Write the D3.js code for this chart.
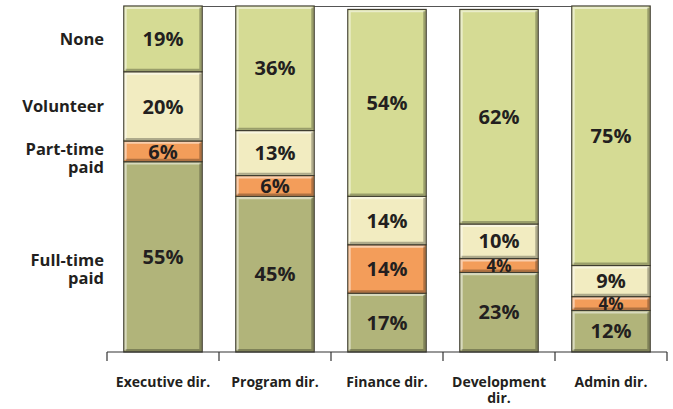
<!DOCTYPE html>
<html>
<head>
<meta charset="utf-8">
<script src="https://cdn.jsdelivr.net/npm/d3@7"></script>
<style>
  body { margin: 0; background: #fff; }
  text { font-family: "Open Sans", "DejaVu Sans", sans-serif; fill: #231f20; }
</style>
</head>
<body>
<div id="chart"></div>
<script>
var categories = ["Executive dir.", "Program dir.", "Finance dir.", "Development dir.", "Admin dir."];
var seriesNames = ["Full-time paid", "Part-time paid", "Volunteer", "None"];
var fullTime = [55, 45, 17, 23, 12];
var partTime = [6, 6, 14, 4, 4];
var volunteer = [20, 13, 14, 10, 9];
var none = [19, 36, 54, 62, 75];
var yLabels = [
    { text: ["None"], at: 90.5 },
    { text: ["Volunteer"], at: 71 },
    { text: ["Part-time", "paid"], at: 56 },
    { text: ["Full-time", "paid"], at: 24 }
];
var colors = ["#b1b47a", "#f39d5a", "#f2ecc1", "#d5db94"];

var width = 673, height = 409;
var margin = { top: 6, right: 6, bottom: 57, left: 107 };
var innerW = width - margin.left - margin.right;
var innerH = height - margin.top - margin.bottom;

var rows = categories.map(function (c, i) {
    return { cat: c, "Full-time paid": fullTime[i], "Part-time paid": partTime[i], "Volunteer": volunteer[i], "None": none[i] };
});
var stacked = d3.stack().keys(seriesNames)(rows);

var x = d3.scaleBand().domain(categories).range([0, innerW]).paddingInner(0.3).paddingOuter(0.15);
var xTick = d3.scaleBand().domain(categories).range([0, innerW]);
var y = d3.scaleLinear().domain([0, 100]).range([innerH, 0]);

var svg = d3.select("#chart").append("svg")
    .attr("width", width).attr("height", height)
    .append("g")
    .attr("transform", "translate(" + margin.left + "," + margin.top + ")");

// partial top border
svg.append("line")
    .attr("x1", 61).attr("x2", 490).attr("y1", 0.5).attr("y2", 0.5)
    .attr("stroke", "#555").attr("stroke-width", 1.2);

var layer = svg.selectAll(".layer")
    .data(stacked)
    .enter().append("g")
    .attr("class", "layer");

var seg = layer.selectAll("g.seg")
    .data(function (d, k) { return d.map(function (p) { return { p: p, k: k, cat: p.data.cat }; }); })
    .enter().append("g").attr("class", "seg");

seg.append("rect")
    .attr("x", function (d) { return x(d.cat); })
    .attr("y", function (d) { return y(d.p[1]); })
    .attr("width", x.bandwidth())
    .attr("height", function (d) { return y(d.p[0]) - y(d.p[1]); })
    .attr("fill", function (d) { return colors[d.k]; })
    .attr("stroke", "#3f3d30")
    .attr("stroke-width", 1.2);

/*  bevel: light top/left, dark bottom/right  */
seg.append("path")
    .attr("d", function (d) {
        var x0 = x(d.cat) + 1.8, x1 = x(d.cat) + x.bandwidth() - 1.8;
        var y0 = y(d.p[1]) + 1.8, y1 = y(d.p[0]) - 1.8;
        return "M" + x0 + "," + y1 + "L" + x0 + "," + y0 + "L" + x1 + "," + y0;
    })
    .attr("fill", "none").attr("stroke", "#fff").attr("stroke-opacity", 0.5).attr("stroke-width", 2.2);
seg.append("path")
    .attr("d", function (d) {
        var x0 = x(d.cat) + 1.8, x1 = x(d.cat) + x.bandwidth() - 1.8;
        var y0 = y(d.p[1]) + 1.8, y1 = y(d.p[0]) - 1.8;
        return "M" + x1 + "," + y0 + "L" + x1 + "," + y1 + "L" + x0 + "," + y1;
    })
    .attr("fill", "none").attr("stroke", "#000").attr("stroke-opacity", 0.28).attr("stroke-width", 2.2);

seg.append("text")
    .attr("x", function (d) { return x(d.cat) + x.bandwidth() / 2; })
    .attr("y", function (d) { return (y(d.p[0]) + y(d.p[1])) / 2; })
    .attr("dy", "0.36em")
    .attr("text-anchor", "middle")
    .style("font-size", function (d) { return (d.p[1] - d.p[0]) < 5 ? "17px" : "20px"; })
    .style("font-weight", "700")
    .text(function (d) { return (d.p[1] - d.p[0]) + "%"; });

// x axis
var xAxis = svg.append("g")
    .attr("transform", "translate(0," + innerH + ")");
xAxis.append("line")
    .attr("x1", 0).attr("x2", innerW).attr("y1", 0).attr("y2", 0)
    .attr("stroke", "#333").attr("stroke-width", 1.2);
xAxis.selectAll(".tk")
    .data(d3.range(categories.length + 1))
    .enter().append("line")
    .attr("x1", function (i) { return i * xTick.step(); })
    .attr("x2", function (i) { return i * xTick.step(); })
    .attr("y1", 0).attr("y2", 9)
    .attr("stroke", "#333").attr("stroke-width", 1.2);

xAxis.selectAll(".xlab")
    .data(categories)
    .enter().append("text")
    .attr("text-anchor", "middle")
    .style("font-size", "14px")
    .style("font-weight", "700")
    .each(function (c) {
        var t = d3.select(this);
        var cx = x(c) + x.bandwidth() / 2;
        var parts = c === "Development dir." ? ["Development", "dir."] : [c];
        parts.forEach(function (p, i) {
            t.append("tspan").attr("x", cx).attr("y", 35 + i * 16).text(p);
        });
    });

// row labels on left
yLabels.forEach(function (d) {
    var n = d.text.length;
    d.text.forEach(function (p, i) {
        svg.append("text")
            .attr("text-anchor", "end")
            .attr("x", -3)
            .attr("y", y(d.at) + 6 + (i - (n - 1) / 2) * 18.5)
            .style("font-size", "16.5px")
            .style("font-weight", "700")
            .text(p);
    });
});
</script>
</body>
</html>
